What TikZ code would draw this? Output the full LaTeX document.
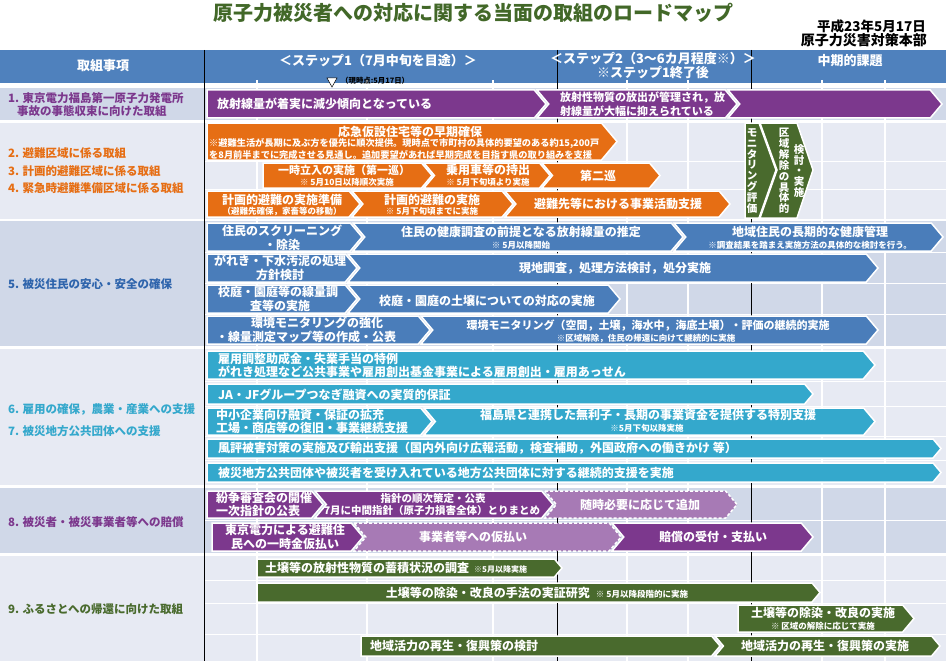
\documentclass[tikz,border=0pt]{standalone}
\usepackage{fontspec}
\setmainfont{Noto Sans CJK JP}
\definecolor{cpur}{RGB}{124,56,141}
\definecolor{clpur}{RGB}{167,122,181}
\definecolor{cora}{RGB}{230,110,20}
\definecolor{cblu}{RGB}{74,125,186}
\definecolor{cteal}{RGB}{52,168,204}
\definecolor{cgrn}{RGB}{73,106,45}
\definecolor{chead}{RGB}{79,129,189}
\definecolor{rowd}{RGB}{208,216,232}
\definecolor{rowl}{RGB}{231,234,243}
\definecolor{ctitle}{RGB}{66,104,40}
\definecolor{lblu}{RGB}{46,100,172}
\newcommand\chevbar[6][]{%
  \pgfmathsetmacro\cbT{0.42*(#5-#3)}%
  \pgfmathsetmacro\cbM{(#3+#5)/2}%
  \pgfmathsetmacro\cbN{#2+#6*\cbT}%
  \pgfmathsetmacro\cbB{#4-\cbT}%
  \path[cbarsty,#1] (#2,#3) -- (\cbB,#3) -- (#4,\cbM) -- (\cbB,#5) -- (#2,#5) -- (\cbN,\cbM) -- cycle;}
\tikzset{
  cbarsty/.style={draw=white,line width=1.5pt,line join=miter},
  dsh/.style={draw=white,dash pattern=on 3pt off 2pt},
  tw/.style={text=white,font=\bfseries\fontsize{12}{14}\selectfont,inner sep=0pt},
  t11/.style={text=white,font=\bfseries\fontsize{11}{13}\selectfont,inner sep=0pt},
  t105/.style={text=white,font=\bfseries\fontsize{10.5}{12}\selectfont,inner sep=0pt},
  tn/.style={text=white,font=\bfseries\fontsize{8.5}{10}\selectfont,inner sep=0pt},
  tn9/.style={text=white,font=\bfseries\fontsize{9.2}{10}\selectfont,inner sep=0pt},
  vt/.style={text=white,font=\bfseries\fontsize{10.5}{10.9}\selectfont,align=center,inner sep=0pt},
  hd/.style={text=white,font=\bfseries\fontsize{13}{15}\selectfont,inner sep=0pt},
  lb/.style={font=\bfseries\fontsize{11.5}{13}\selectfont,inner sep=0pt,anchor=west},
  gridw/.style={white,line width=1.5pt},
  gridh/.style={white,line width=1pt},
  darkv/.style={black,line width=0.7pt},
}
\begin{document}
\begin{tikzpicture}[x=1pt,y=-1pt]
\useasboundingbox (0,0) rectangle (946,661);
\fill[white] (0,0) rectangle (946,661);
% title
\node[font=\bfseries\fontsize{20}{22}\selectfont,text=ctitle,inner sep=0pt] (title) at (473,13) {原子力被災者への対応に関する当面の取組のロードマップ};
\node[font=\bfseries\fontsize{13.5}{15}\selectfont,inner sep=0pt,anchor=east] (date) at (926,26.5) {平成23年5月17日};
\node[font=\bfseries\fontsize{14}{16}\selectfont,inner sep=0pt,anchor=east] (dept) at (927,40.5) {原子力災害対策本部};
% header and rows
\fill[chead] (0,50) rectangle (946,83.5);
\fill[rowd] (0,88) rectangle (946,120);
\fill[rowl] (0,122.5) rectangle (946,218.5);
\fill[rowd] (0,221) rectangle (946,346);
\fill[rowl] (0,349) rectangle (946,485);
\fill[rowd] (0,488) rectangle (946,553);
\fill[rowl] (0,556) rectangle (946,661);
% grid
\foreach \yy in {161.5,189.5,252.5,283.5,314.5,381.5,406,436.5,460.5,520.5,580,603.5,634}
  \draw[gridh] (205,\yy) -- (946,\yy);
\foreach \xx in {257,367,493,627,688,822,885}
  \draw[gridw] (\xx,80) -- (\xx,661);
\draw[darkv] (204,50) -- (204,661);
\draw[darkv] (557,50) -- (557,661);
\draw[darkv] (751,50) -- (751,661);
% header texts
\node[hd] (h1) at (103,66) {取組事項};
\node[hd] (h2) at (378,61) {＜ステップ1（7月中旬を目途）＞};
\node[hd] (h3) at (653,59) {＜ステップ2（3～6カ月程度※）＞};
\node[hd] (h4) at (653,73) {※ステップ1終了後};
\node[hd] (h5) at (850,61) {中期的課題};
\path[draw=black,fill=white,line width=0.5pt] (327,78) -- (337,78) -- (332,87) -- cycle;
\node[font=\bfseries\fontsize{7.4}{8}\selectfont,inner sep=0pt,anchor=west] (now) at (341,80.5) {（現時点:5月17日）};
% left labels
\node[lb,text=cpur] (l1a) at (8,98.5) {1. 東京電力福島第一原子力発電所};
\node[lb,text=cpur] (l1b) at (17,111.5) {事故の事態収束に向けた取組};
\node[lb,text=cora] (l2) at (8,153) {2. 避難区域に係る取組};
\node[lb,text=cora] (l3) at (8,171) {3. 計画的避難区域に係る取組};
\node[lb,text=cora] (l4) at (8,188.5) {4. 緊急時避難準備区域に係る取組};
\node[lb,text=lblu] (l5) at (8,284.5) {5. 被災住民の安心・安全の確保};
\node[lb,text=cteal] (l6) at (8,409) {6. 雇用の確保，農業・産業への支援};
\node[lb,text=cteal] (l7) at (8,431) {7. 被災地方公共団体への支援};
\node[lb,text=cpur] (l8) at (8,522) {8. 被災者・被災事業者等への賠償};
\node[lb,text=cgrn] (l9) at (8,609) {9. ふるさとへの帰還に向けた取組};
% row 1
\chevbar[fill=cpur]{207}{90}{546}{118}{0}
\chevbar[fill=cpur]{537}{90}{737}{118}{1}
\chevbar[fill=cpur]{728}{90}{942}{118}{1}
\node[tw,anchor=west] (r1a) at (217,104) {放射線量が着実に減少傾向となっている};
\node[t11,anchor=west] (r1b) at (560,97.5) {放射性物質の放出が管理され，放};
\node[t11,anchor=west] (r1c) at (560,111) {射線量が大幅に抑えられている};
% row 2
\chevbar[fill=cora]{207}{123}{617}{160}{0}
\node[tw] (r2a) at (410,131.5) {応急仮設住宅等の早期確保};
\node[tn9,anchor=west] (r2b) at (209,143.5) {※避難生活が長期に及ぶ方を優先に順次提供。現時点で市町村の具体的要望のある約15,200戸};
\node[tn9,anchor=west] (r2c) at (209,155) {を8月前半までに完成させる見通し。追加要望があれば早期完成を目指す県の取り組みを支援};
\chevbar[fill=cora]{263}{163}{432}{188}{0}
\node[t11] (r2d) at (344,170) {一時立入の実施（第一巡）};
\node[tn] (r2e) at (347,182.5) {※ 5月10日以降順次実施};
\chevbar[fill=cora]{424}{163}{550}{188}{1}
\node[tw] (r2f) at (488,170) {乗用車等の持出};
\node[tn] (r2g) at (488,182.5) {※ 5月下旬頃より実施};
\chevbar[fill=cora]{542}{163}{660}{188}{1}
\node[tw] (r2h) at (598,176) {第二巡};
\chevbar[fill=cora]{207}{191}{360}{217}{0}
\node[tw] (r2i) at (282,199.5) {計画的避難の実施準備};
\node[tn] (r2j) at (282,211.5) {（避難先確保，家畜等の移動）};
\chevbar[fill=cora]{352}{191}{513}{217}{1}
\node[tw] (r2k) at (432,199.5) {計画的避難の実施};
\node[tn] (r2l) at (432,211.5) {※ 5月下旬頃までに実施};
\chevbar[fill=cora]{505}{191}{730}{217}{1}
\node[tw] (r2m) at (618,204) {避難先等における事業活動支援};
% green monitoring pieces
\path[cbarsty,fill=cgrn] (745,123) -- (759,123) -- (776,170) -- (759,218) -- (745,218) -- cycle;
\path[cbarsty,fill=cgrn] (760,123) -- (797,123) -- (813,170) -- (797,218) -- (760,218) -- (777,170) -- cycle;
\node[vt] (m1) at (752,171) {モ\\ニ\\タ\\リ\\ン\\グ\\評\\価};
\node[vt] (m2) at (784,171) {区\\域\\解\\除\\の\\具\\体\\的};
\node[vt] (m3) at (799,171) {検\\討\\・\\実\\施};
% row 3
\chevbar[fill=cblu]{207}{223}{362}{251}{0}
\node[tw] (r3a) at (282,230.5) {住民のスクリーニング};
\node[tw] (r3b) at (282,244.5) {・除染};
\chevbar[fill=cblu]{353}{223}{683}{251}{1}
\node[tw] (r3c) at (521,232) {住民の健康調査の前提となる放射線量の推定};
\node[tn] (r3d) at (521,245) {※ 5月以降開始};
\chevbar[fill=cblu]{674}{223}{943}{251}{1}
\node[tw] (r3e) at (810,232) {地域住民の長期的な健康管理};
\node[tn] (r3f) at (810,245) {※調査結果を踏まえ実施方法の具体的な検討を行う。};
\chevbar[fill=cblu]{207}{254}{357}{282}{0}
\node[tw] (r3g) at (280,261) {がれき・下水汚泥の処理};
\node[tw] (r3h) at (280,275) {方針検討};
\chevbar[fill=cblu]{348}{254}{878}{282}{1}
\node[tw] (r3i) at (615,268) {現地調査，処理方法検討，処分実施};
\chevbar[fill=cblu]{207}{285}{357}{313}{0}
\node[tw] (r3j) at (278,292) {校庭・園庭等の線量調};
\node[tw] (r3k) at (280,306) {査等の実施};
\chevbar[fill=cblu]{348}{285}{620}{313}{1}
\node[tw] (r3l) at (487,301) {校庭・園庭の土壌についての対応の実施};
\chevbar[fill=cblu]{207}{316}{430}{344}{0}
\node[tw] (r3m) at (317,323) {環境モニタリングの強化};
\node[tw] (r3n) at (306,337) {・線量測定マップ等の作成・公表};
\chevbar[fill=cblu]{421}{316}{878}{344}{1}
\node[t11] (r3o) at (648,326) {環境モニタリング（空間，土壌，海水中，海底土壌）・評価の継続的実施};
\node[tn] (r3p) at (646,339) {※区域解除，住民の帰還に向けて継続的に実施};
% row 4
\chevbar[fill=cteal]{207}{351}{875}{379}{0}
\node[tw,anchor=west] (r4a) at (218,358.5) {雇用調整助成金・失業手当の特例};
\node[tw,anchor=west] (r4b) at (218,372) {がれき処理など公共事業や雇用創出基金事業による雇用創出・雇用あっせん};
\chevbar[fill=cteal]{207}{384}{813}{404}{0}
\node[tw,anchor=west] (r4c) at (218,394.5) {JA・JFグループつなぎ融資への実質的保証};
\chevbar[fill=cteal]{207}{408}{432}{435}{0}
\node[tw,anchor=west] (r4d) at (216,415) {中小企業向け融資・保証の拡充};
\node[tw,anchor=west] (r4e) at (216,428) {工場・商店等の復旧・事業継続支援};
\chevbar[fill=cteal]{424}{408}{875}{435}{1}
\node[tw] (r4f) at (648,415) {福島県と連携した無利子・長期の事業資金を提供する特別支援};
\node[tn] (r4g) at (647,428) {※5月下旬以降実施};
\chevbar[fill=cteal]{207}{439}{941}{458}{0}
\node[tw,anchor=west] (r4h) at (218,448.5) {風評被害対策の実施及び輸出支援（国内外向け広報活動，検査補助，外国政府への働きかけ 等）};
\chevbar[fill=cteal]{207}{463}{941}{482}{0}
\node[tw,anchor=west] (r4i) at (218,472.5) {被災地方公共団体や被災者を受け入れている地方公共団体に対する継続的支援を実施};
% row 5
\chevbar[fill=cpur]{207}{491}{323}{518}{0}
\node[tw,anchor=west] (r5a) at (216,498) {紛争審査会の開催};
\node[tw,anchor=west] (r5b) at (216,511) {一次指針の公表};
\chevbar[fill=cpur]{315}{491}{553}{518}{1}
\node[t105] (r5c) at (433,498) {指針の順次策定・公表};
\node[t105] (r5d) at (432,511) {7月に中間指針（原子力損害全体）とりまとめ};
\chevbar[fill=clpur,dsh]{545}{491}{737}{518}{1}
\node[tw] (r5e) at (640,505) {随時必要に応じて追加};
\chevbar[fill=cpur]{212}{523}{363}{551}{0}
\node[tw] (r5f) at (285,530) {東京電力による避難住};
\node[tw] (r5g) at (285,544) {民への一時金仮払い};
\chevbar[fill=clpur,dsh]{354}{523}{621}{551}{1}
\node[tw] (r5h) at (473,537) {事業者等への仮払い};
\chevbar[fill=cpur]{612}{523}{813}{551}{1}
\node[tw] (r5i) at (713,537) {賠償の受付・支払い};
% row 6
\chevbar[fill=cgrn]{257}{559}{562}{577}{0}
\node[tw,anchor=west] (r6a) at (265,568) {土壌等の放射性物質の蓄積状況の調査\hspace{5pt}{\fontsize{8}{9}\selectfont ※5月以降実施}};
\chevbar[fill=cgrn]{257}{583}{820}{602}{0}
\node[tw] (r6b) at (537,592.5) {土壌等の除染・改良の手法の実証研究\hspace{6pt}{\fontsize{8.5}{9}\selectfont ※ 5月以降段階的に実施}};
\chevbar[fill=cgrn]{738}{605}{914}{632}{0}
\node[tw] (r6c) at (823,613) {土壌等の除染・改良の実施};
\node[tn] (r6d) at (823,626) {※ 区域の解除に応じて実施};
\chevbar[fill=cgrn]{361}{636}{720}{656}{0}
\node[tw,anchor=west] (r6e) at (370,646) {地域活力の再生・復興策の検討};
\chevbar[fill=cgrn]{715}{636}{940}{656}{1}
\node[tw] (r6f) at (825,646) {地域活力の再生・復興策の実施};
\end{tikzpicture}
\end{document}
